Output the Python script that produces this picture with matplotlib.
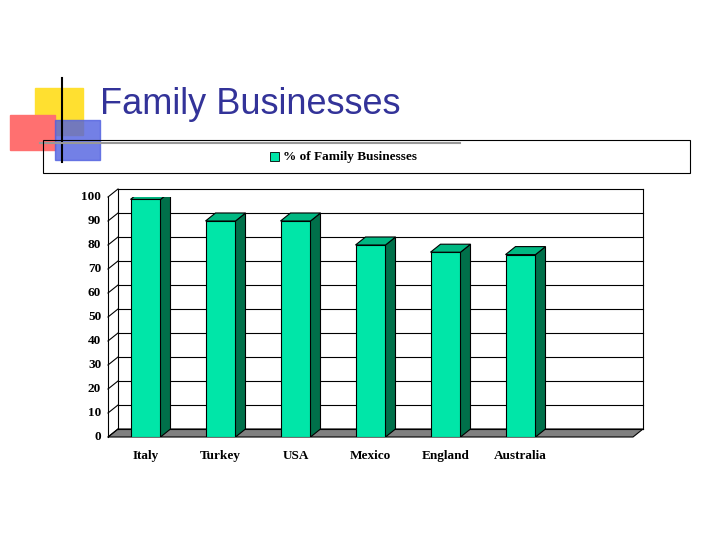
import matplotlib.pyplot as plt
from matplotlib.patches import Polygon, Rectangle

countries = ['Italy', 'Turkey', 'USA', 'Mexico', 'England', 'Australia']
values = [99, 90, 90, 80, 77, 76]
yticks = list(range(0, 101, 10))
legend_label = '% of Family Businesses'

front = '#00E6A8'
side = '#00704A'
top = '#00B882'

fig = plt.figure(figsize=(7.28, 5.46), dpi=100)

# logo decoration
deco = fig.add_axes([0, 0, 1, 1])
deco.set_xlim(0, 728)
deco.set_ylim(546, 0)
deco.axis('off')
deco.add_patch(Rectangle((35, 88), 48, 47, color='#FFE030', zorder=1))
deco.add_patch(Rectangle((10, 115), 45, 35, color='#FF7070', zorder=2))
deco.add_patch(Rectangle((55, 120), 45, 40, color='#5060E0', zorder=2, alpha=0.8))
deco.plot([62, 62], [78, 162], color='black', lw=1.5, zorder=3)
deco.plot([40, 460], [143, 143], color='#999999', lw=1.5, zorder=3)
deco.text(100, 105, 'Family Businesses', fontsize=26, color='#333399',
          va='center', ha='left', family='Liberation Sans')

# legend box
deco.add_patch(Rectangle((43, 140), 647, 33, fill=False, ec='black', lw=0.8, zorder=4))
deco.add_patch(Rectangle((270, 152), 9, 9, fc=front, ec='black', lw=0.6, zorder=5))
deco.text(283, 157, legend_label, fontsize=9.5, fontweight='bold',
          family='Liberation Serif', va='center', ha='left')

ax = fig.add_axes([108 / 728, 109 / 546, 525 / 728, 240 / 546])
ax.set_xlim(0, 7)
ax.set_ylim(0, 100)
ax.axis('off')
dx, dy = 10 / 75, 8 / 2.4
n = 7

# floor
ax.add_patch(Polygon([(0, 0), (n, 0), (n + dx, dy), (dx, dy)],
                     closed=True, fc='#808080', ec='black', lw=0.8, clip_on=False))
# back grid and walls
for t in yticks:
    ax.plot([dx, n + dx], [t + dy, t + dy], color='black', lw=0.8, clip_on=False)
    ax.plot([0, dx], [t, t + dy], color='black', lw=0.8, clip_on=False)
    ax.text(-0.09, t, str(t), ha='right', va='center', fontsize=9.5,
            fontweight='bold', family='Liberation Serif')
ax.plot([dx, dx], [dy, 100 + dy], color='black', lw=0.8, clip_on=False)
ax.plot([n + dx, n + dx], [dy, 100 + dy], color='black', lw=0.8, clip_on=False)
ax.plot([0, 0], [0, 100], color='black', lw=0.8, clip_on=False)

w = 0.4
for i, (c, v) in enumerate(zip(countries, values)):
    x0 = i + 0.5 - w / 2
    x1 = x0 + w
    ax.add_patch(Rectangle((x0, 0), w, v, fc=front, ec='black', lw=0.8, zorder=5))
    ax.add_patch(Polygon([(x1, 0), (x1 + dx, dy), (x1 + dx, v + dy), (x1, v)],
                         closed=True, fc=side, ec='black', lw=0.8, zorder=5))
    ax.add_patch(Polygon([(x0, v), (x1, v), (x1 + dx, v + dy), (x0 + dx, v + dy)],
                         closed=True, fc=top, ec='black', lw=0.8, zorder=5))
    ax.text(i + 0.5, -8, c, ha='center', va='center', fontsize=9.5,
            fontweight='bold', family='Liberation Serif')

fig.savefig('out.png', dpi=100)
